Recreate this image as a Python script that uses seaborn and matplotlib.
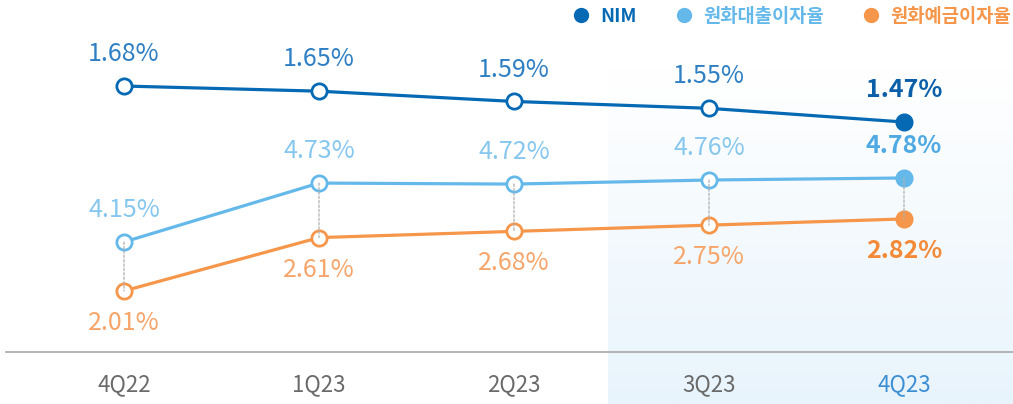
import numpy as np
import pandas as pd
import seaborn as sns
import matplotlib.pyplot as plt
from matplotlib.colors import LinearSegmentedColormap
from matplotlib.lines import Line2D
from matplotlib.patches import ConnectionPatch

sns.set_theme(style="white")
plt.rcParams['font.family'] = ['Noto Sans CJK KR', 'DejaVu Sans']

quarters = ['4Q22', '1Q23', '2Q23', '3Q23', '4Q23']
nim = [1.68, 1.65, 1.59, 1.55, 1.47]
loan_rate = [4.15, 4.73, 4.72, 4.76, 4.78]
deposit_rate = [2.01, 2.61, 2.68, 2.75, 2.82]

df = pd.DataFrame({'q': range(len(quarters)), 'NIM': nim,
                   '원화대출이자율': loan_rate, '원화예금이자율': deposit_rate})

c_nim, c_loan, c_dep = '#0569b4', '#65b9ea', '#f5964a'
lab_nim, lab_loan, lab_dep = '#2f7fc4', '#86c7ef', '#f6a56a'
last_nim, last_loan, last_dep = '#0a5fa8', '#4fa9e2', '#f28a38'

fig = plt.figure(figsize=(10.13, 4.04), dpi=100)

# gradient shading behind the last two quarters
bg = fig.add_axes([0, 0, 1, 1], zorder=0)
bg.set_axis_off()
bg.set_xlim(0, 1)
bg.set_ylim(0, 1)
grad = np.linspace(0, 1, 256).reshape(-1, 1)
cmap = LinearSegmentedColormap.from_list('g', ['#e8f4fc', '#ffffff'])
bg.imshow(grad, cmap=cmap, aspect='auto', extent=[608 / 1013, 1, 0, 1 - 70 / 404],
          origin='lower')

rect = [6 / 1013, 52 / 404, 1007 / 1013, 352 / 404]
ax = fig.add_axes(rect, zorder=1)
ax.patch.set_alpha(0)
ax2 = ax.twinx()
ax3 = ax.twinx()
for a in (ax, ax2, ax3):
    a.patch.set_alpha(0)
    for s in a.spines.values():
        s.set_visible(False)
    a.set_yticks([])
    a.grid(False)

ax.set_xlim(-0.605, 4.559)
ax.set_ylim(0.128, 2.182)
ax2.set_ylim(3.067, 6.532)
ax3.set_ylim(1.323, 5.283)

series = [
    (ax, 'NIM', c_nim, lab_nim, last_nim, 1),
    (ax2, '원화대출이자율', c_loan, lab_loan, last_loan, 1),
    (ax3, '원화예금이자율', c_dep, lab_dep, last_dep, -1),
]
for a, col, c, lc, llc, side in series:
    sns.lineplot(data=df, x='q', y=col, ax=a, color=c, lw=2.3, marker='o',
                 markersize=11, markerfacecolor='white', markeredgecolor=c,
                 markeredgewidth=2.0, legend=False, zorder=3)
    sns.scatterplot(x=[df['q'].iloc[-1]], y=[df[col].iloc[-1]], ax=a, color=c,
                    s=150, edgecolor=c, linewidth=0, zorder=4, legend=False)
    for i, v in enumerate(df[col]):
        last = i == len(df) - 1
        a.annotate(f'{v:.2f}%', (i, v), xytext=(0, 23 * side), textcoords='offset points',
                   ha='center', va='center', fontsize=18,
                   color=llc if last else lc, fontweight='bold' if last else 'normal')
    a.set_ylabel('')
    a.set_xlabel('')

# dotted connectors between loan and deposit rates
for i in range(len(quarters)):
    con = ConnectionPatch(xyA=(i, loan_rate[i]), coordsA=ax2.transData,
                          xyB=(i, deposit_rate[i]), coordsB=ax3.transData,
                          color='#b0b0b0', lw=0.9, ls=(0, (2, 1.5)), zorder=2)
    fig.add_artist(con)

ax.spines['bottom'].set_visible(True)
ax.spines['bottom'].set_color('#a8a8a8')
ax.spines['bottom'].set_linewidth(1.2)
ax.set_xticks(range(len(quarters)))
ax.set_xticklabels(quarters, fontsize=16, color='#6a6a6a')
ax.tick_params(axis='x', length=0, pad=15)
ax.get_xticklabels()[-1].set_color('#3d8fd4')

handles = [Line2D([], [], marker='o', ls='', color=c, markersize=10)
           for c in (c_nim, c_loan, c_dep)]
fig.legend(handles, ['NIM', '원화대출이자율', '원화예금이자율'], loc='upper right',
           bbox_to_anchor=(1.015, 1.025), ncol=3, frameon=False,
           prop={'size': 13.5, 'weight': 'bold'}, labelcolor=[c_nim, c_loan, c_dep],
           handletextpad=0.05, columnspacing=1.5)

fig.savefig('out.png', dpi=100)
